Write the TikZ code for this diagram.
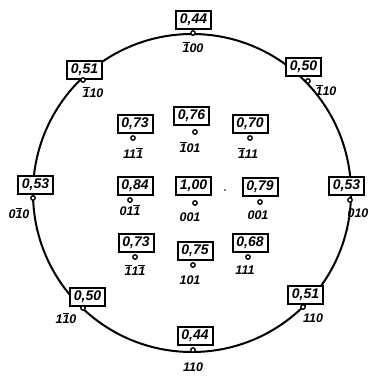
\documentclass[tikz,border=0pt]{standalone}
\usepackage{fontspec}
\setmainfont{Liberation Sans}
\newcommand{\ob}[1]{\ensuremath{\overline{\mbox{#1}}}}
\tikzset{
  valbox/.style={draw, fill=white, line width=2pt, minimum width=35pt, minimum height=18pt, inner sep=1pt,
    font=\fontsize{14}{15}\selectfont\bfseries\itshape},
  site/.style={circle, draw, line width=1.3pt, fill=white, inner sep=0pt, minimum size=4.5pt},
  idx/.style={inner sep=0pt, font=\fontsize{12.5}{13}\selectfont\bfseries\itshape},
  rim/.style={line width=2pt}
}
\begin{document}
\begin{tikzpicture}[x=1pt,y=-1pt]
\useasboundingbox (0,0) rectangle (369,376);
\coordinate (c) at (192,193);
\draw[rim] (c) circle[radius=159];
% outer sites
\node[valbox] (bT) at (193.5,20) {0,44};
\node[site] (dT) at (193,33) {};
\node[idx] (lT) at (193,47) {\ob{1}00};
\node[valbox] (bUL) at (84.5,69.5) {0,51};
\node[site] (dUL) at (83,80) {};
\node[idx] (lUL) at (93,92) {\ob{1}10};
\node[valbox] (bUR) at (303.5,66.5) {0,50};
\node[site] (dUR) at (308,81) {};
\node[idx] (lUR) at (326,90) {\ob{1}10};
\node[valbox] (bL) at (35.5,185) {0,53};
\node[site] (dL) at (33,198) {};
\node[idx] (lL) at (19,213) {0\ob{1}0};
\node[valbox] (bR) at (346.5,185.5) {0,53};
\node[site] (dR) at (350,200) {};
\node[idx] (lR) at (358,213) {010};
\node[valbox] (bLL) at (87.5,296.5) {0,50};
\node[site] (dLL) at (83,308) {};
\node[idx] (lLL) at (66,318) {1\ob{1}0};
\node[valbox] (bLR) at (305.5,294.5) {0,51};
\node[site] (dLR) at (303,307) {};
\node[idx] (lLR) at (313,318) {110};
\node[valbox] (bB) at (195,336) {0,44};
\node[site] (dB) at (193,350) {};
\node[idx] (lB) at (193,367) {110};
% inner sites
\node[valbox] (b1) at (135,123.5) {0,73};
\node[site] (d1) at (133,138) {};
\node[idx] (l1) at (133,153) {11\ob{1}};
\node[valbox] (b2) at (191.5,116) {0,76};
\node[site] (d2) at (195,132) {};
\node[idx] (l2) at (190,147) {\ob{1}01};
\node[valbox] (b3) at (250,124) {0,70};
\node[site] (d3) at (250,138) {};
\node[idx] (l3) at (248,153) {\ob{1}11};
\node[valbox] (b4) at (135,186) {0,84};
\node[site] (d4) at (130,200) {};
\node[idx] (l4) at (130,210) {01\ob{1}};
\node[valbox] (b5) at (193.5,186) {1,00};
\node[site] (d5) at (195,203) {};
\node[idx] (l5) at (190,217) {001};
\node[valbox] (b6) at (260,187) {0,79};
\node[site] (d6) at (260,202) {};
\node[idx] (l6) at (258,215) {001};
\node[valbox] (b7) at (136,243) {0,73};
\node[site] (d7) at (135,257) {};
\node[idx] (l7) at (135,270) {\ob{1}1\ob{1}};
\node[valbox] (b8) at (195,251) {0,75};
\node[site] (d8) at (193,265) {};
\node[idx] (l8) at (190,280) {101};
\node[valbox] (b9) at (250,242.5) {0,68};
\node[site] (d9) at (248,257) {};
\node[idx] (l9) at (245,270) {111};
\fill (225,190) circle[radius=0.9];
\end{tikzpicture}
\end{document}
